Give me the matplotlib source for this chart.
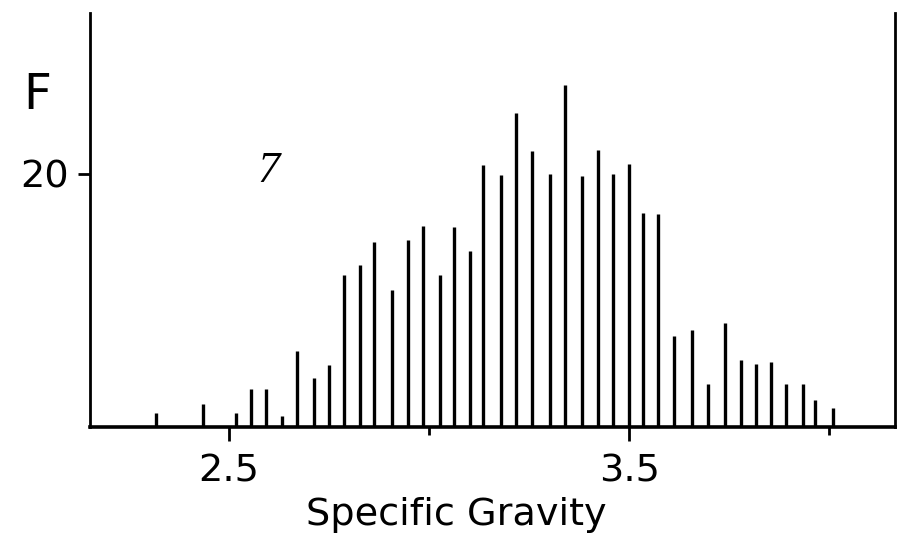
import matplotlib
matplotlib.use("Agg")
import matplotlib.pyplot as plt

# Frequency of each specific gravity class
sg = [2.317, 2.435, 2.516, 2.554, 2.592, 2.633, 2.670, 2.713, 2.749, 2.787,
      2.828, 2.863, 2.906, 2.946, 2.985, 3.027, 3.062, 3.103, 3.135, 3.179,
      3.217, 3.256, 3.301, 3.339, 3.381, 3.421, 3.460, 3.498, 3.535, 3.572,
      3.612, 3.656, 3.697, 3.739, 3.778, 3.816, 3.854, 3.891, 3.933, 3.965,
      4.009]
freq = [1.1, 1.8, 1.1, 3.0, 3.0, 0.9, 6.0, 3.9, 4.9, 12.0,
        12.8, 14.6, 10.8, 14.8, 15.9, 12.0, 15.8, 13.9, 20.7, 19.9,
        24.8, 21.8, 20.0, 27.0, 19.8, 21.9, 20.0, 20.8, 16.9, 16.8,
        7.2, 7.7, 3.4, 8.2, 5.3, 5.0, 5.1, 3.4, 3.4, 2.1,
        1.5]

major_ticks = [2.5, 3.5]
minor_ticks = [3.0, 4.0]
y_ticks = [20]

plt.rcParams["font.family"] = "DejaVu Sans"

W, H = 897, 548
fig = plt.figure(figsize=(W / 100, H / 100), dpi=100)
ax = fig.add_axes([90 / W, 1 - 427 / H, (895 - 90) / W, (427 - 13) / H])

ax.vlines(sg, 0, freq, color="black", lw=2.4)

ax.set_xlim(2.152, 4.164)
ax.set_ylim(0, 32.7)

ax.spines["top"].set_visible(False)
ax.spines["left"].set_linewidth(2.0)
ax.spines["right"].set_linewidth(2.0)
ax.spines["bottom"].set_linewidth(2.6)

ax.set_xticks(major_ticks)
ax.set_xticklabels([str(t) for t in major_ticks])
ax.set_xticks(minor_ticks, minor=True)
ax.set_yticks(y_ticks)
ax.set_yticklabels([str(t) for t in y_ticks])

ax.tick_params(axis="x", which="major", direction="out", length=10, width=2,
               pad=9, labelsize=27.5)
ax.tick_params(axis="x", which="minor", direction="out", length=6, width=2)
ax.tick_params(axis="y", which="major", direction="out", length=8.5, width=2,
               pad=7, labelsize=27.5)

ax.set_xlabel("Specific Gravity", fontsize=27.5)
ax.xaxis.set_label_coords((456 - 90) / 805, -(497 - 427) / 414)
ax.xaxis.label.set_va("top")

ax.set_ylabel("F", rotation=0, fontsize=35, ha="center", va="center")
ax.yaxis.set_label_coords((37 - 90) / 805, (427 - 95) / 414)

ax.text((269 - 90) / 805, (427 - 171) / 414, "7", transform=ax.transAxes,
        fontsize=32, family="Liberation Serif", style="italic",
        ha="center", va="center")

fig.savefig("out.png", dpi=100)
